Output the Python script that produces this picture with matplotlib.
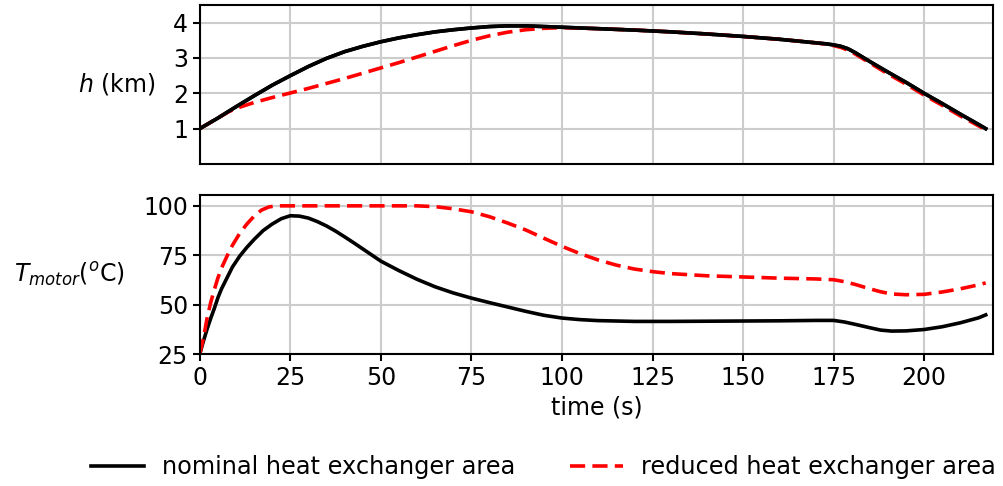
import matplotlib
matplotlib.use("Agg")
import matplotlib.pyplot as plt

# time samples (s)
t_h_nom = [0, 5, 10, 15, 20, 25, 30, 35, 40, 45, 50, 55, 60, 65, 70, 75, 80, 85, 90, 95,
           100, 110, 120, 130, 140, 150, 160, 170, 173, 175, 177, 179, 181, 185, 190, 195, 200, 205, 210, 215, 217]
h_nom = [1.0, 1.3, 1.62, 1.93, 2.23, 2.5, 2.76, 2.99, 3.18, 3.33, 3.46, 3.57, 3.66, 3.74, 3.8, 3.85, 3.89, 3.91, 3.91, 3.89,
         3.87, 3.83, 3.79, 3.74, 3.68, 3.61, 3.53, 3.43, 3.4, 3.37, 3.33, 3.26, 3.15, 2.9, 2.6, 2.31, 2.0, 1.71, 1.41, 1.12, 1.0]

t_h_red = [0, 5, 8, 10, 12, 15, 20, 25, 30, 35, 40, 45, 50, 55, 60, 65, 70, 75, 80, 85, 90, 95,
           100, 110, 120, 130, 140, 150, 160, 170, 173, 175, 177, 179, 181, 185, 190, 195, 200, 205, 210, 215, 217]
h_red = [1.0, 1.3, 1.48, 1.57, 1.64, 1.74, 1.88, 2.01, 2.14, 2.28, 2.42, 2.57, 2.72, 2.87, 3.03, 3.19, 3.35, 3.5, 3.63, 3.73, 3.8, 3.84,
         3.86, 3.83, 3.79, 3.74, 3.68, 3.61, 3.53, 3.43, 3.39, 3.35, 3.3, 3.22, 3.11, 2.86, 2.55, 2.26, 1.95, 1.66, 1.36, 1.08, 0.97]

t_T_nom = [0, 1, 2, 3, 4, 5, 6, 7.5, 9, 11, 13, 15, 17.5, 20, 22.5, 25, 27.5, 30, 32.5, 35, 37.5, 40, 42.5, 45, 47.5,
           50, 55, 60, 65, 70, 75, 80, 85, 90, 95, 100, 105, 110, 120, 130, 140, 150, 160, 170, 175,
           178, 181, 185, 188, 191, 195, 200, 205, 210, 215, 217]
T_nom = [25, 31.5, 37.5, 43, 48, 53.5, 58, 63.5, 69, 74.5, 79, 83, 87.5, 90.8, 93.5, 95, 94.8, 93.8, 92, 89.8, 87.2, 84.3, 81.3, 78.2, 75.1,
         72, 67.2, 62.8, 59, 55.9, 53.3, 51, 48.8, 46.6, 44.6, 43.2, 42.4, 41.9, 41.5, 41.5, 41.6, 41.7, 41.8, 42, 42,
         41.2, 40, 38.3, 37.1, 36.6, 36.7, 37.4, 38.8, 40.8, 43.3, 44.8]

t_T_red = [0, 1, 2, 3, 4, 5, 6, 7.5, 9, 11, 13, 15, 17, 19, 21, 30, 40, 50, 60, 65, 70, 75, 80, 85, 90, 95, 100,
           105, 110, 115, 120, 125, 130, 140, 150, 160, 170, 175, 178, 181, 185, 188, 191, 195, 200, 205, 210, 215, 217]
T_red = [25, 33, 43, 51, 57.5, 63.5, 68.5, 74.5, 80, 86, 90.8, 94.8, 97.8, 99.4, 100, 100, 100, 100, 100, 99.6, 98.5, 97, 94.5, 91.3, 87.8, 83.6, 79.5,
         75.8, 72.6, 70, 68, 66.7, 65.7, 64.6, 64, 63.4, 63, 62.6, 61.6, 60.2, 58, 56.5, 55.4, 55, 55.2, 56.4, 58, 60, 61]

x_ticks = [0, 25, 50, 75, 100, 125, 150, 175, 200]
h_ticks = [1, 2, 3, 4]
T_ticks = [25, 50, 75, 100]

FS = 17
plt.rcParams['font.family'] = ['DejaVu Sans']
plt.rcParams['mathtext.fontset'] = 'dejavusans'

fig = plt.figure(figsize=(10.04, 4.86), dpi=100)
ax1 = fig.add_axes([0.199, 0.6626, 0.790, 0.3271])
ax2 = fig.add_axes([0.199, 0.2716, 0.790, 0.3272], sharex=ax1)

lw = 2.6
dash = (0, (4.2, 2.0))
for ax in (ax1, ax2):
    ax.grid(True, color='#cccccc', linewidth=1.5)
    ax.set_axisbelow(True)
    for s in ax.spines.values():
        s.set_linewidth(1.5)
    ax.tick_params(labelsize=FS, width=1.5, length=5)

l1, = ax1.plot(t_h_nom, h_nom, color='black', lw=lw, label='nominal heat exchanger area')
l2, = ax1.plot(t_h_red, h_red, color='red', lw=lw, ls=dash, label='reduced heat exchanger area')
ax1.plot(t_h_nom, h_nom, color='black', lw=lw)
ax2.plot(t_T_nom, T_nom, color='black', lw=lw)
ax2.plot(t_T_red, T_red, color='red', lw=lw, ls=dash)

ax1.set_xlim(0, 219)
ax1.set_ylim(0, 4.5)
ax1.set_yticks(h_ticks)
ax1.set_xticks(x_ticks)
ax1.tick_params(axis='x', labelbottom=False, length=0)
ax2.set_ylim(25, 105.5)
ax2.set_yticks(T_ticks)

ax1.set_ylabel(r'$h$ (km)', fontsize=FS, rotation=0, ha='center', va='center')
ax1.yaxis.set_label_coords(-0.105, 0.5)
ax2.set_ylabel(r'$T_{motor}$($^o$C)', fontsize=FS, rotation=0, ha='center', va='center')
ax2.yaxis.set_label_coords(-0.165, 0.5)
ax2.set_xlabel('time (s)', fontsize=FS, labelpad=4)

fig.legend(handles=[l1, l2], loc='center', bbox_to_anchor=(0.541, 0.039), ncol=2, frameon=False,
           fontsize=17.3, handlelength=2.2, handletextpad=0.75, columnspacing=2.3)

fig.savefig('out.png', dpi=100)
